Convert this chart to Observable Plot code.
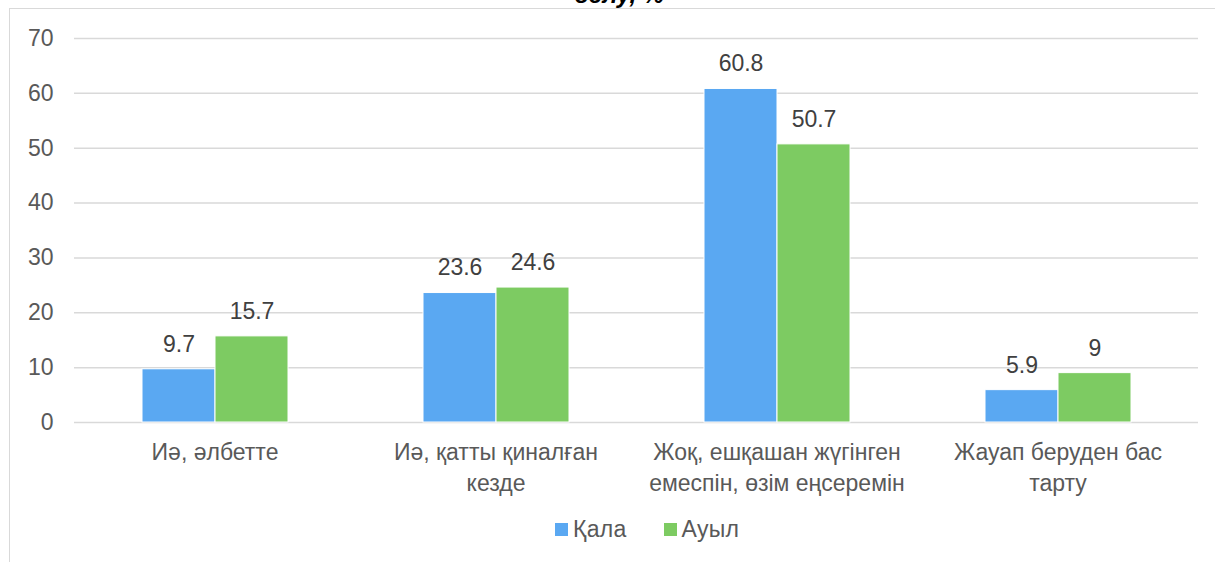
<!DOCTYPE html>
<html>
<head>
<meta charset="utf-8">
<script src="https://cdn.jsdelivr.net/npm/d3@7"></script>
<script src="https://cdn.jsdelivr.net/npm/@observablehq/plot@0.6"></script>
<style>
  html, body { margin: 0; padding: 0; background: #fff; }
  #wrap { position: relative; width: 1215px; height: 562px; overflow: hidden; background: #fff; font-family: "Liberation Sans", Arial, sans-serif; }
  #title { position: absolute; top: -17px; left: 0; width: 1238px; text-align: center; font: bold italic 24px/24px "Liberation Sans", Arial, sans-serif; color: #000; }
  #borderTop { position: absolute; left: 9px; top: 8px; width: 1206px; height: 0; border-top: 1.5px solid #d9d9d9; }
  #borderLeft { position: absolute; left: 9px; top: 8px; width: 0; height: 560px; border-left: 1.5px solid #d9d9d9; }
  #chart { position: absolute; left: 0; top: 0; }
  #legend { position: absolute; top: 515px; left: 555px; height: 28px; display: flex; gap: 37px; font-size: 23px; line-height: 28px; color: #595959; letter-spacing: 0.3px; }
  .item { display: flex; align-items: center; }
  .sw { width: 13px; height: 13px; margin-right: 5px; }
</style>
</head>
<body>
<div id="wrap">
  <div id="title">белу, %</div>
  <div id="borderTop"></div>
  <div id="borderLeft"></div>
  <div id="chart"></div>
  <div id="legend"></div>
</div>
<script>
const categories = ["Иә, әлбетте", "Иә, қатты қиналған кезде", "Жоқ, ешқашан жүгінген емеспін, өзім еңсеремін", "Жауап беруден бас тарту"];
const categoryLabels = ["Иә, әлбетте", "Иә, қатты қиналған\nкезде", "Жоқ, ешқашан жүгінген\nемеспін, өзім еңсеремін", "Жауап беруден бас\nтарту"];
const series = ["Қала", "Ауыл"];
const kalaValues = [9.7, 23.6, 60.8, 5.9];
const auylValues = [15.7, 24.6, 50.7, 9];
const yTicks = [0, 10, 20, 30, 40, 50, 60, 70];
const colors = ["#5aa8f2", "#7dcb62"];

const rows = [];
categories.forEach((c, i) => {
  rows.push({cat: c, series: series[0], value: kalaValues[i]});
  rows.push({cat: c, series: series[1], value: auylValues[i]});
});
const labelOf = new Map(categories.map((c, i) => [c, categoryLabels[i]]));

const chart = Plot.plot({
  width: 1215,
  height: 500,
  marginLeft: 74,
  marginRight: 17,
  marginTop: 38,
  marginBottom: 78,
  style: {fontFamily: "'Liberation Sans', Arial, sans-serif", fontSize: "23px", color: "#595959", background: "transparent"},
  fx: {domain: categories, padding: 0, label: null},
  x: {domain: series, paddingInner: 0, paddingOuter: 0.899, axis: null},
  y: {domain: [0, 70], axis: null},
  color: {domain: series, range: colors},
  marks: [
    Plot.gridY(yTicks, {stroke: "#d9d9d9", strokeOpacity: 1, strokeWidth: 1.5}),
    Plot.axisY(yTicks, {tickSize: 0, tickPadding: 21, fontSize: 23, fill: "#595959", label: null, style: {letterSpacing: "1.8px"}}),
    Plot.axisFx({anchor: "bottom", tickSize: 0, tickPadding: 15, fontSize: 23, fill: "#595959", lineHeight: 1.36, label: null, tickFormat: d => labelOf.get(d), style: {letterSpacing: "0.4px"}}),
    Plot.barY(rows, {fx: "cat", x: "series", y: "value", fill: "series", stroke: "white", strokeWidth: 1}),
    Plot.text(rows, {fx: "cat", x: "series", y: "value", text: d => String(d.value), dy: -25, fontSize: 23, fill: "#404040", style: {letterSpacing: "1px"}})
  ]
});
document.getElementById("chart").appendChild(chart);

const legend = document.getElementById("legend");
series.forEach((s, i) => {
  const item = document.createElement("div");
  item.className = "item";
  const sw = document.createElement("span");
  sw.className = "sw";
  sw.style.background = colors[i];
  const t = document.createElement("span");
  t.textContent = s;
  item.appendChild(sw);
  item.appendChild(t);
  legend.appendChild(item);
});
</script>
</body>
</html>
